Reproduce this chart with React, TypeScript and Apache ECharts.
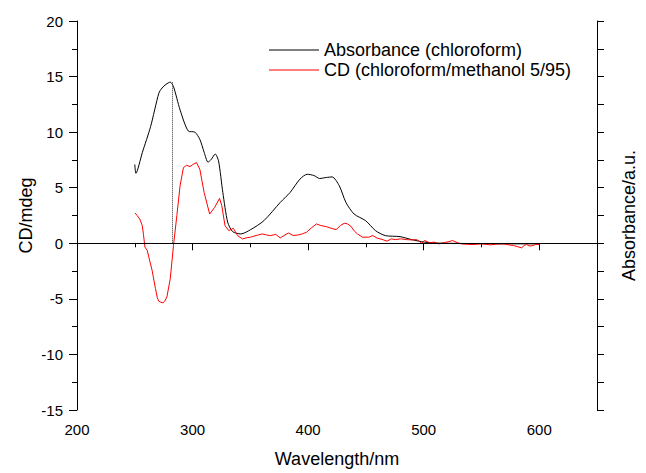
import React, { useEffect, useRef } from "react";
import * as echarts from "echarts";

// Absorbance (chloroform) — plotted in CD-axis units
const absWavelength = [250, 251, 256.5, 263.7, 270.8, 273.6, 277, 280.7, 283.5, 289.2, 296.3, 302, 306.3, 310, 313.4, 316.2, 319.6, 322.5, 326.2, 330.4, 334.7, 341.8, 350.3, 361.7, 375.9, 384.4, 392.9, 399.2, 405, 410, 415.7, 420.8, 427, 432.7, 439.8, 449.8, 458.3, 466.8, 479.6, 489.6, 500.9, 515, 540, 570, 600];
const absValues = [7.1, 6.3, 8.15, 10.5, 13.5, 13.97, 14.3, 14.5, 14.1, 12.0, 10.1, 10.0, 9.35, 8.2, 7.3, 7.55, 8.03, 7.4, 4.57, 1.89, 1.05, 0.84, 1.23, 2.03, 3.68, 4.57, 5.77, 6.21, 6.1, 5.83, 5.92, 5.97, 5.17, 3.68, 2.63, 2.03, 1.14, 0.69, 0.6, 0.33, 0.1, 0.01, -0.02, -0.05, -0.05];

// CD (chloroform/methanol 5/95)
const cdWavelength = [250.3, 252, 254.3, 256.5, 257.5, 258.8, 260.8, 263, 265, 267.9, 269.5, 270.8, 272.5, 274.4, 276, 277.8, 280.7, 283.5, 286.4, 289.2, 292.1, 294.9, 297.8, 300.6, 303.4, 306.3, 310, 314.8, 319.1, 323.4, 325.3, 328.1, 331.3, 335.3, 339, 343.2, 347, 350.3, 355, 360.3, 364, 367.3, 372, 375.9, 380, 383, 387, 391.5, 395, 398.6, 403, 407.2, 411, 415.7, 420, 424.2, 428, 431.3, 434, 437, 440, 442.7, 447, 452.6, 456, 459.8, 464, 468.3, 472, 475.4, 480, 485.3, 490, 493.9, 496, 498.1, 500.9, 505, 509.5, 513, 518, 522, 525.1, 528, 532.2, 538, 543.6, 550, 557.8, 563, 569.1, 574, 577.7, 581, 584.8, 587, 589, 592, 594.7, 597, 600.3];
const cdValues = [2.72, 2.5, 2.18, 1.58, 0.8, -0.35, -0.65, -1.6, -2.44, -4.08, -4.9, -5.22, -5.3, -5.36, -5.2, -4.83, -3.19, -0.2, 2.48, 5.17, 6.81, 7.02, 6.9, 7.11, 7.26, 6.66, 4.57, 2.63, 3.23, 4.04, 3.38, 1.58, 1.14, 1.35, 0.69, 0.39, 0.5, 0.55, 0.7, 0.84, 0.75, 0.69, 0.8, 0.48, 0.75, 0.93, 0.7, 0.75, 0.85, 0.99, 1.4, 1.74, 1.6, 1.5, 1.35, 1.23, 1.6, 1.8, 1.75, 1.53, 1.1, 0.84, 0.55, 0.55, 0.7, 0.46, 0.35, 0.19, 0.4, 0.33, 0.4, 0.33, 0.3, 0.33, 0.2, 0.01, 0.25, 0.05, 0.1, -0.05, 0.07, 0.15, 0.25, 0.1, -0.05, -0.1, -0.11, -0.05, -0.14, -0.08, -0.05, -0.15, -0.2, -0.3, -0.41, -0.2, -0.11, -0.25, -0.2, -0.1, -0.11];

// Marker line: CD zero-crossing / absorbance maximum
const peakWavelength = 282;
const peakAbsorbance = 14.5;

const seriesNames = ["Absorbance (chloroform)", "CD (chloroform/methanol 5/95)"];

const FONT = "'Liberation Sans', Arial, sans-serif";

export default function App() {
  const ref = useRef<HTMLDivElement>(null);
  useEffect(() => {
    if (!ref.current) return;
    const chart = echarts.init(ref.current, undefined, { renderer: "svg" });
    const axisLine = { show: true, lineStyle: { color: "#000", width: 1 } };
    chart.setOption({
      animation: false,
      textStyle: { fontFamily: FONT },
      grid: { left: 77, right: 40, top: 21, bottom: 61, containLabel: false },
      legend: {
        orient: "vertical",
        left: 264,
        top: 36,
        icon: "rect",
        itemWidth: 50,
        itemHeight: 1,
        itemGap: 2,
        textStyle: { fontSize: 18, color: "#000", fontFamily: FONT },
        data: seriesNames,
      },
      xAxis: [
        {
          type: "value",
          position: "bottom",
          min: 200,
          max: 650,
          interval: 100,
          axisLine,
          axisTick: { show: true, length: 7, lineStyle: { color: "#000" } },
          minorTick: { show: true, splitNumber: 2, length: 4, lineStyle: { color: "#000" } },
          splitLine: { show: false },
          axisLabel: { fontSize: 15, color: "#000", margin: 12, showMaxLabel: false, fontFamily: FONT },
          name: "Wavelength/nm",
          nameLocation: "middle",
          nameGap: 40,
          nameMoveOverlap: false,
          nameTextStyle: { fontSize: 18, color: "#000", fontFamily: FONT },
        },
        {
          type: "value",
          position: "top",
          min: 200,
          max: 650,
          interval: 100,
          axisLine,
          axisTick: { show: false },
          axisLabel: { show: false },
          splitLine: { show: false },
        },
      ],
      yAxis: [
        {
          type: "value",
          position: "left",
          min: -15,
          max: 20,
          interval: 5,
          axisLine,
          axisTick: { show: true, length: 8, lineStyle: { color: "#000" } },
          minorTick: { show: true, splitNumber: 2, length: 5, lineStyle: { color: "#000" } },
          splitLine: { show: false },
          axisLabel: { fontSize: 15, color: "#000", margin: 14, fontFamily: FONT },
          name: "CD/mdeg",
          nameLocation: "middle",
          nameGap: 42,
          nameMoveOverlap: false,
          nameTextStyle: { fontSize: 18, color: "#000", fontFamily: FONT },
        },
        {
          type: "value",
          position: "right",
          min: -15,
          max: 20,
          interval: 2.5,
          axisLine,
          axisTick: { show: true, length: 7, lineStyle: { color: "#000" } },
          splitLine: { show: false },
          axisLabel: { show: false },
          name: "Absorbance/a.u.",
          nameLocation: "middle",
          nameGap: 23,
          nameMoveOverlap: false,
          nameTextStyle: { fontSize: 18, color: "#000", fontFamily: FONT },
        },
      ],
      series: [
        {
          name: seriesNames[0],
          type: "line",
          xAxisIndex: 0,
          yAxisIndex: 0,
          data: absWavelength.map((w, i) => [w, absValues[i]]),
          showSymbol: false,
          symbol: "none",
          smooth: 0.25,
          lineStyle: { color: "#000", width: 1 },
          itemStyle: { color: "#000" },
          markLine: {
            silent: true,
            symbol: ["none", "none"],
            label: { show: false },
            lineStyle: { color: "#333", width: 1, type: [1, 1] },
            data: [[{ coord: [peakWavelength, 0] }, { coord: [peakWavelength, peakAbsorbance] }]],
          },
        },
        {
          name: seriesNames[1],
          type: "line",
          xAxisIndex: 0,
          yAxisIndex: 0,
          data: cdWavelength.map((w, i) => [w, cdValues[i]]),
          showSymbol: false,
          symbol: "none",
          lineStyle: { color: "#ff0000", width: 1 },
          itemStyle: { color: "#ff0000" },
          markLine: {
            silent: true,
            symbol: ["none", "none"],
            label: { show: false },
            lineStyle: { color: "#000", width: 1, type: "solid" },
            data: [{ yAxis: 0 }],
          },
        },
      ],
    });
    return () => chart.dispose();
  }, []);
  return (
    <div
      ref={ref}
      style={{ position: "fixed", left: 0, top: 0, width: 646, height: 473, background: "#fff" }}
    />
  );
}
